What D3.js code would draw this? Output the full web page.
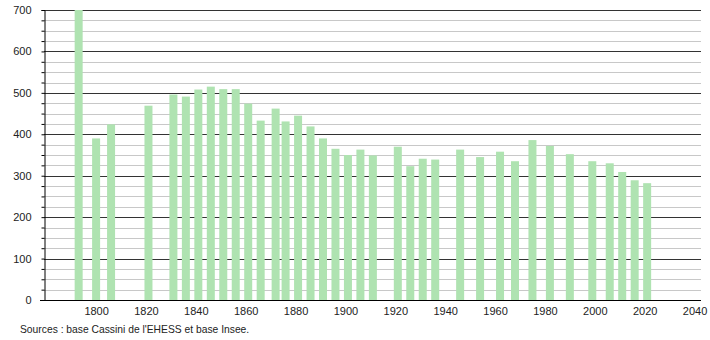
<!DOCTYPE html>
<html>
<head>
<meta charset="utf-8">
<script src="https://cdn.jsdelivr.net/npm/d3@7"></script>
<style>
  body { margin: 0; background: #fff; }
  text { font-family: "Liberation Sans", Arial, sans-serif; }
</style>
</head>
<body>
<svg></svg>
<script>
const years = [1793, 1800, 1806, 1821, 1831, 1836, 1841, 1846, 1851, 1856, 1861, 1866,
  1872, 1876, 1881, 1886, 1891, 1896, 1901, 1906, 1911, 1921, 1926, 1931, 1936,
  1946, 1954, 1962, 1968, 1975, 1982, 1990, 1999, 2006, 2011, 2016, 2021];
const population = [700, 390, 424, 469, 496, 491, 508, 515, 509, 509, 474, 433,
  462, 431, 445, 419, 390, 365, 350, 363, 349, 370, 323, 341, 339,
  363, 345, 358, 335, 386, 372, 352, 335, 330, 309, 289, 282];
const xTicks = [1800, 1820, 1840, 1860, 1880, 1900, 1920, 1940, 1960, 1980, 2000, 2020, 2040];
const yTicks = [0, 100, 200, 300, 400, 500, 600, 700];
const source = "Sources : base Cassini de l'EHESS et base Insee.";

function drawChart() {
  const width = 710;
  const height = 340;
  const margin = { top: 10, right: 9, bottom: 40, left: 44 };

  const svg = d3.select('svg').attr('width', width).attr('height', height);

  const x = d3.scaleLinear()
    .domain([1779.1, 2042.6])
    .range([margin.left, width - margin.right]);
  const y = d3.scaleLinear()
    .domain([0, 700])
    .range([height - margin.bottom, margin.top]);

  const minor = d3.range(0, 701, 25);

  // gridlines
  svg.append('g')
    .selectAll('line')
    .data(minor)
    .join('line')
    .attr('x1', margin.left)
    .attr('x2', width - margin.right)
    .attr('y1', (d) => Math.round(y(d)) + 0.5)
    .attr('y2', (d) => Math.round(y(d)) + 0.5)
    .attr('stroke', (d) => yTicks.includes(d) ? '#333' : '#c8c8c8')
    .attr('stroke-width', 1);

  // bars
  const bw = 8;
  svg.append('g')
    .selectAll('rect')
    .data(years)
    .join('rect')
    .attr('x', (d) => x(d) - bw / 2)
    .attr('width', bw)
    .attr('y', (_, i) => y(population[i]))
    .attr('height', (_, i) => y(0) - y(population[i]))
    .attr('fill', '#afe3b1');

  // y axis
  const yAxis = svg.append('g')
    .attr('transform', 'translate(' + (margin.left + 0.5) + ',0)')
    .call(d3.axisLeft(y).tickValues(minor).tickSize(3).tickFormat((d) => yTicks.includes(d) ? d : ''));
  yAxis.select('.domain').attr('stroke', '#000');
  yAxis.selectAll('.tick line').attr('stroke', '#000');
  yAxis.selectAll('.tick text')
    .attr('x', -13)
    .attr('fill', '#222')
    .style('font-size', '11px');

  // x axis
  const xAxis = svg.append('g')
    .attr('transform', 'translate(0,' + (Math.round(y(0)) + 0.5) + ')')
    .call(d3.axisBottom(x).tickValues(xTicks).tickSize(0).tickFormat(d3.format('d')));
  xAxis.select('.domain')
    .attr('d', 'M40,0H' + (width - margin.right))
    .attr('stroke', '#000');
  xAxis.selectAll('.tick text')
    .attr('y', 7)
    .attr('fill', '#222')
    .style('font-size', '11px');

  svg.append('text')
    .attr('x', 20)
    .attr('y', 333)
    .attr('fill', '#222')
    .style('font-size', '10.3px')
    .text(source);
}

drawChart();
</script>
</body>
</html>
